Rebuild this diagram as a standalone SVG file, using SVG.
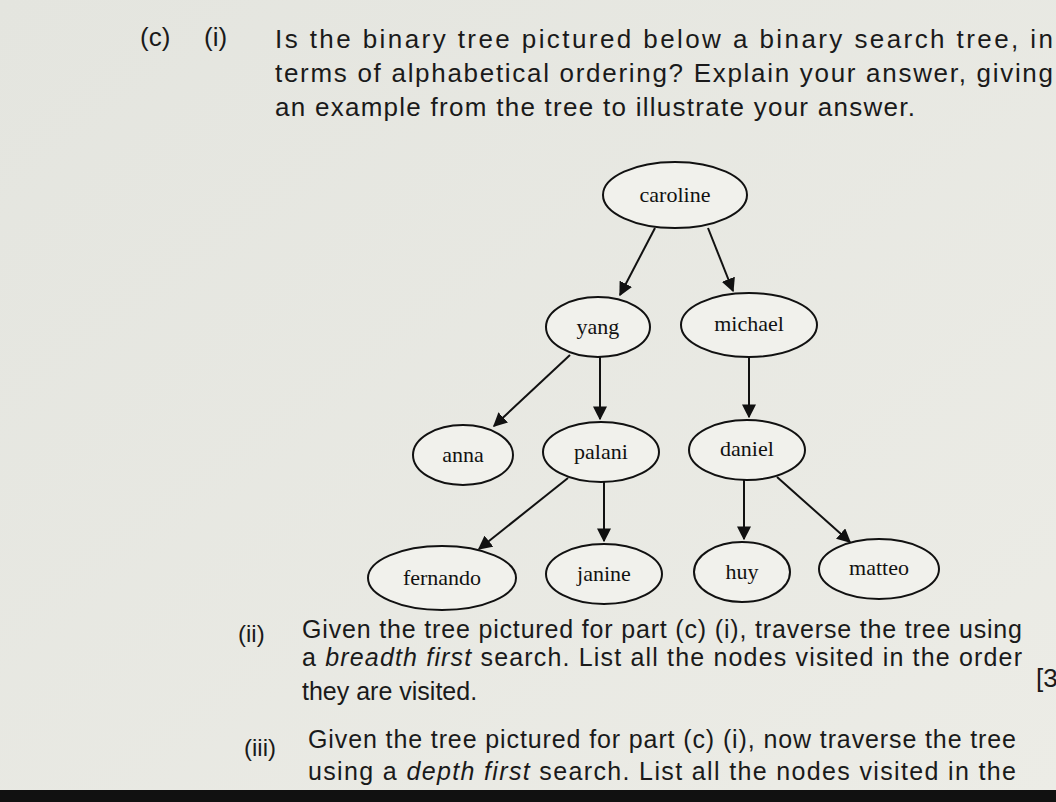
<svg xmlns="http://www.w3.org/2000/svg" width="1056" height="802" viewBox="0 0 1056 802">
<defs>
<marker id="ah" viewBox="0 0 10 10" refX="9" refY="5" markerWidth="7" markerHeight="7" orient="auto"><path d="M0,0 L10,5 L0,10 z" fill="#111"/></marker>
<linearGradient id="bg" x1="0" y1="0" x2="1" y2="1"><stop offset="0" stop-color="#e4e5df"/><stop offset="1" stop-color="#ecece6"/></linearGradient>
</defs>
<style>
.q{font-family:"Liberation Sans",Arial,sans-serif;font-size:26px;fill:#1a1a1a}
.n ellipse{fill:#f1f1ec;stroke:#111;stroke-width:2}
.n text{font-family:"Liberation Serif","Times New Roman",serif;font-size:22px;fill:#111;text-anchor:middle}
#edges line{stroke:#111;stroke-width:2;marker-end:url(#ah)}
</style>
<rect width="1056" height="802" fill="url(#bg)"/>
<rect x="0" y="790" width="1056" height="12" fill="#111"/>
<text class="q" x="140" y="46">(c)</text>
<text class="q" x="204" y="46">(i)</text>
<text class="q" x="275" y="48" textLength="778" lengthAdjust="spacing">Is the binary tree pictured below a binary search tree, in</text>
<text class="q" x="275" y="82" textLength="778" lengthAdjust="spacing">terms of alphabetical ordering? Explain your answer, giving</text>
<text class="q" x="275" y="116" textLength="640" lengthAdjust="spacing">an example from the tree to illustrate your answer.</text>
<g id="edges">
<line x1="655" y1="228" x2="620" y2="295"/>
<line x1="708" y1="228" x2="733" y2="291"/>
<line x1="570" y1="355" x2="494" y2="426"/>
<line x1="600" y1="357" x2="600" y2="419"/>
<line x1="749" y1="357" x2="749" y2="417"/>
<line x1="568" y1="478" x2="479" y2="549"/>
<line x1="604" y1="482" x2="604" y2="541"/>
<line x1="744" y1="480" x2="744" y2="539"/>
<line x1="777" y1="477" x2="850" y2="542"/>
</g>
<g id="caroline" class="n"><ellipse cx="675" cy="195" rx="72" ry="33"/><text x="675" y="202">caroline</text></g>
<g id="yang" class="n"><ellipse cx="598" cy="327" rx="52" ry="30"/><text x="598" y="334">yang</text></g>
<g id="michael" class="n"><ellipse cx="749" cy="325" rx="68" ry="32"/><text x="749" y="331">michael</text></g>
<g id="anna" class="n"><ellipse cx="463" cy="455" rx="50" ry="30"/><text x="463" y="462">anna</text></g>
<g id="palani" class="n"><ellipse cx="601" cy="452" rx="58" ry="30"/><text x="601" y="459">palani</text></g>
<g id="daniel" class="n"><ellipse cx="747" cy="450" rx="58" ry="30"/><text x="747" y="456">daniel</text></g>
<g id="fernando" class="n"><ellipse cx="442" cy="578" rx="74" ry="32"/><text x="442" y="585">fernando</text></g>
<g id="janine" class="n"><ellipse cx="604" cy="574" rx="58" ry="30"/><text x="604" y="581">janine</text></g>
<g id="huy" class="n"><ellipse cx="742" cy="572" rx="48" ry="30"/><text x="742" y="579">huy</text></g>
<g id="matteo" class="n"><ellipse cx="879" cy="569" rx="60" ry="30"/><text x="879" y="575">matteo</text></g>
<text class="q" x="238" y="642" style="font-size:24px">(ii)</text>
<text class="q" x="302" y="638" style="font-size:25px" textLength="720" lengthAdjust="spacing">Given the tree pictured for part (c) (i), traverse the tree using</text>
<text class="q" x="302" y="666" style="font-size:25px" textLength="720" lengthAdjust="spacing">a <tspan font-style="italic">breadth first</tspan> search. List all the nodes visited in the order</text>
<text class="q" x="302" y="700" style="font-size:25px">they are visited.</text>
<text class="q" x="1036" y="687">[3</text>
<text class="q" x="244" y="756" style="font-size:24px">(iii)</text>
<text class="q" x="308" y="748" style="font-size:25px" textLength="708" lengthAdjust="spacing">Given the tree pictured for part (c) (i), now traverse the tree</text>
<text class="q" x="308" y="780" style="font-size:25px" textLength="708" lengthAdjust="spacing">using a <tspan font-style="italic">depth first</tspan> search. List all the nodes visited in the</text>
</svg>
